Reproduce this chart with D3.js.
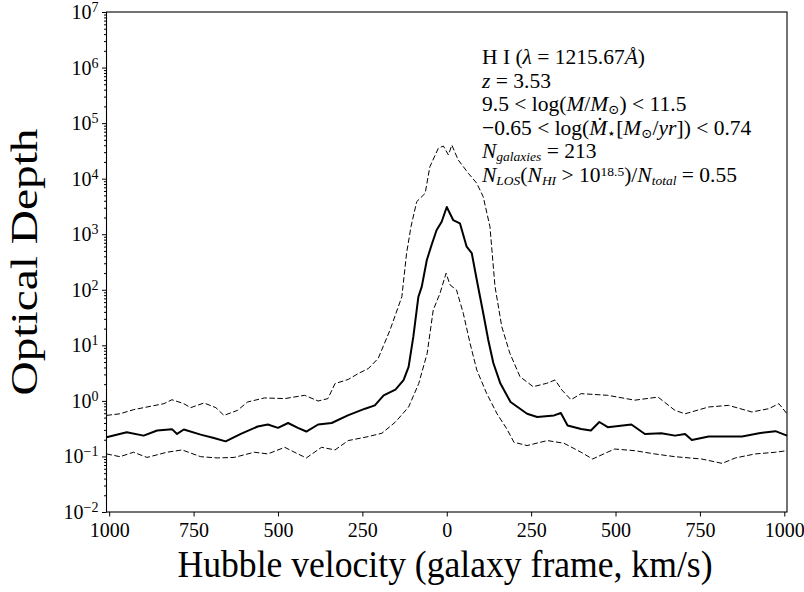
<!DOCTYPE html>
<html>
<head>
<meta charset="utf-8">
<script src="https://cdn.jsdelivr.net/npm/d3@7"></script>
<style>
  body { margin: 0; background: #fff; }
  text { font-family: "Liberation Serif", "DejaVu Serif", serif; fill: #000; }
</style>
</head>
<body>
<script>
// optical depth vs hubble velocity
var velMedian = [-1008,-948,-898,-858,-814,-799,-779,-729,-690,-655,-610,-560,-530,-500,-470,-441,-416,-381,-341,-293,-242,-213,-187,-152,-128,-113,-99,-84,-74,-59,-45,-30,-15,0,19,39,59,74,89,108,123,138,159,189,238,268,318,338,358,398,427,452,477,547,587,636,676,706,726,776,824,875,925,974,1008];
var tauMedian = [0.222,0.273,0.237,0.293,0.310,0.254,0.306,0.247,0.215,0.187,0.254,0.346,0.376,0.327,0.400,0.327,0.281,0.376,0.400,0.548,0.724,0.830,1.26,1.60,2.36,4.11,14.3,75,114,343,640,1190,1680,3090,1800,1570,596,459,150,38.2,12.5,4.81,2.05,0.955,0.586,0.513,0.548,0.605,0.361,0.313,0.293,0.417,0.336,0.376,0.254,0.262,0.237,0.254,0.198,0.228,0.228,0.228,0.262,0.285,0.237];

var velUpper = [-1008,-968,-928,-879,-838,-814,-779,-759,-719,-684,-660,-620,-590,-540,-480,-421,-381,-352,-331,-292,-262,-232,-203,-168,-133,-119,-106,-89,-64,-50,-25,-10,5,15,34,64,89,108,128,143,163,187,217,256,296,321,341,368,398,477,557,626,676,706,776,835,904,954,984,1008];
var tauUpper = [0.548,0.586,0.695,0.796,0.891,1.05,0.891,0.755,0.916,0.755,0.548,0.675,0.955,1.13,1.10,1.26,0.995,1.10,2.05,2.43,3.11,3.83,5.84,18.9,75,454,1365,3850,5450,16400,35200,38700,26700,40300,21700,12500,8250,4730,1365,114,21.7,7.19,2.73,1.80,2.07,2.38,1.57,1.05,1.35,1.26,1.03,1.17,0.675,0.586,0.777,0.83,0.631,0.724,0.891,0.586];

var velLower = [-1008,-968,-928,-888,-829,-784,-729,-680,-630,-570,-530,-480,-441,-416,-371,-331,-292,-232,-192,-152,-113,-83,-58,-40,-20,-2,10,29,49,69,89,118,149,178,199,238,298,347,398,432,497,557,616,676,755,816,855,914,974,1008];
var tauLower = [0.111,0.099,0.119,0.096,0.119,0.131,0.099,0.094,0.096,0.119,0.111,0.146,0.111,0.094,0.146,0.131,0.193,0.228,0.262,0.417,0.777,2.05,7.16,43.3,86.4,198,122,99,37.7,10.9,3.60,1.37,0.586,0.313,0.180,0.157,0.193,0.173,0.119,0.090,0.136,0.127,0.111,0.099,0.090,0.075,0.094,0.111,0.119,0.127];

var xTicks = [-1000,-750,-500,-250,0,250,500,750,1000];
var yExps = [-2,-1,0,1,2,3,4,5,6,7];

// annotation lines: [text, style]  i = italic, sub / sup = shifted, small
var infoLines = [
	[["H I ("], ["λ","i"], [" = 1215.67"], ["Å","i"], [")"]],
	[["z","i"], [" = 3.53"]],
	[["9.5 < log("], ["M","i"], ["/"], ["M","i"], ["⊙","sub"], [") < 11.5"]],
	[["−0.65 < log("], ["M\u0307","i"], ["⋆","sub"], ["["], ["M","i"], ["⊙","sub"], ["/"], ["yr","i"], ["]) < 0.74"]],
	[["N","i"], ["galaxies","isub"], [" = 213"]],
	[["N","i"], ["LOS","isub"], ["("], ["N","i"], ["HI","isub"], [" > 10"], ["18.5","sup"], [")/"], ["N","i"], ["total","isub"], [" = 0.55"]]
];

var W = 804, H = 592;
var margin = {top: 12, right: 17, bottom: 80, left: 106.5};

var svg = d3.select("body")
	.append("svg")
	.attr("width", W)
	.attr("height", H);

var xScale = d3.scaleLinear()
	.domain([-1008, 1008])
	.range([margin.left, W - margin.right]);

var yScale = d3.scaleLog()
	.domain([1e-2, 1e7])
	.range([H - margin.bottom, margin.top]);

function toPoints(vs, ts) {
	return vs.map(function(v, i) { return [v, ts[i]]; });
}

var line = d3.line()
	.x(function(d) { return xScale(d[0]); })
	.y(function(d) { return yScale(d[1]); });

// dashed percentiles
svg.append("path")
	.datum(toPoints(velUpper, tauUpper))
	.attr("d", line)
	.attr("fill", "none")
	.attr("stroke", "#000")
	.attr("stroke-width", 1)
	.attr("stroke-dasharray", "5.5,2.5");

svg.append("path")
	.datum(toPoints(velLower, tauLower))
	.attr("d", line)
	.attr("fill", "none")
	.attr("stroke", "#000")
	.attr("stroke-width", 1)
	.attr("stroke-dasharray", "5.5,2.5");

// median
svg.append("path")
	.datum(toPoints(velMedian, tauMedian))
	.attr("d", line)
	.attr("fill", "none")
	.attr("stroke", "#000")
	.attr("stroke-width", 2)
	.attr("stroke-linejoin", "round");

// x-axis
var xAxis = svg.append("g")
	.attr("transform", "translate(0," + (H - margin.bottom) + ")")
	.call(d3.axisBottom(xScale)
		.tickValues(xTicks)
		.tickFormat(function(d) { return Math.abs(d); })
		.tickSize(4.5)
		.tickSizeOuter(0)
		.tickPadding(6));
xAxis.select(".domain").remove();
xAxis.selectAll("text")
	.attr("font-family", "Liberation Serif")
	.attr("font-size", 20);

// y-axis minor ticks
var minor = [];
yExps.slice(0, -1).forEach(function(e) {
	for (var k = 2; k <= 9; k++) minor.push(k * Math.pow(10, e));
});
var yMinor = svg.append("g")
	.attr("transform", "translate(" + margin.left + ",0)")
	.call(d3.axisLeft(yScale).tickValues(minor).tickFormat("").tickSize(2.5).tickSizeOuter(0));
yMinor.select(".domain").remove();

// y-axis major ticks
var yAxis = svg.append("g")
	.attr("transform", "translate(" + margin.left + ",0)")
	.call(d3.axisLeft(yScale)
		.tickValues(yExps.map(function(e) { return Math.pow(10, e); }))
		.tickFormat("")
		.tickSize(4.5)
		.tickSizeOuter(0));
yAxis.select(".domain").remove();

// y tick labels 10^n
var ylab = svg.append("g").selectAll("text")
	.data(yExps)
	.enter().append("text")
	.attr("x", margin.left - 8)
	.attr("y", function(d) { return yScale(Math.pow(10, d)) + 7; })
	.attr("text-anchor", "end")
	.attr("font-size", 20);
ylab.append("tspan").text("10");
ylab.append("tspan")
	.attr("dy", -7)
	.attr("font-size", 14)
	.text(function(d) { return d < 0 ? "−" + Math.abs(d) : d; });

// frame
svg.append("rect")
	.attr("x", margin.left)
	.attr("y", margin.top)
	.attr("width", W - margin.right - margin.left)
	.attr("height", H - margin.bottom - margin.top)
	.attr("fill", "none")
	.attr("stroke", "#000")
	.attr("stroke-width", 1.1);

// axis titles
svg.append("text")
	.attr("x", 445)
	.attr("y", 577)
	.attr("text-anchor", "middle")
	.attr("font-size", 37)
	.attr("textLength", 535)
	.attr("lengthAdjust", "spacingAndGlyphs")
	.text("Hubble velocity (galaxy frame, km/s)");

svg.append("text")
	.attr("transform", "translate(37," + ((margin.top + H - margin.bottom) / 2) + ") rotate(-90)")
	.attr("text-anchor", "middle")
	.attr("font-size", 37)
	.attr("textLength", 267)
	.attr("lengthAdjust", "spacingAndGlyphs")
	.text("Optical Depth");

// info block
var info = svg.append("g").attr("font-size", 21.5);
infoLines.forEach(function(segs, li) {
	var t = info.append("text")
		.attr("x", 482)
		.attr("y", 64 + li * 23.5);
	var shift = 0;
	segs.forEach(function(s) {
		var st = s[1] || "";
		var target = 0, size = 21.5;
		if (st == "sub" || st == "isub") { target = 3; size = 13.5; }
		if (st == "sup") { target = -6; size = 13.5; }
		var ts = t.append("tspan")
			.attr("dy", target - shift)
			.attr("font-size", size)
			.text(s[0]);
		if (st == "i" || st == "isub") ts.attr("font-style", "italic");
		shift = target;
	});
});
</script>
</body>
</html>
